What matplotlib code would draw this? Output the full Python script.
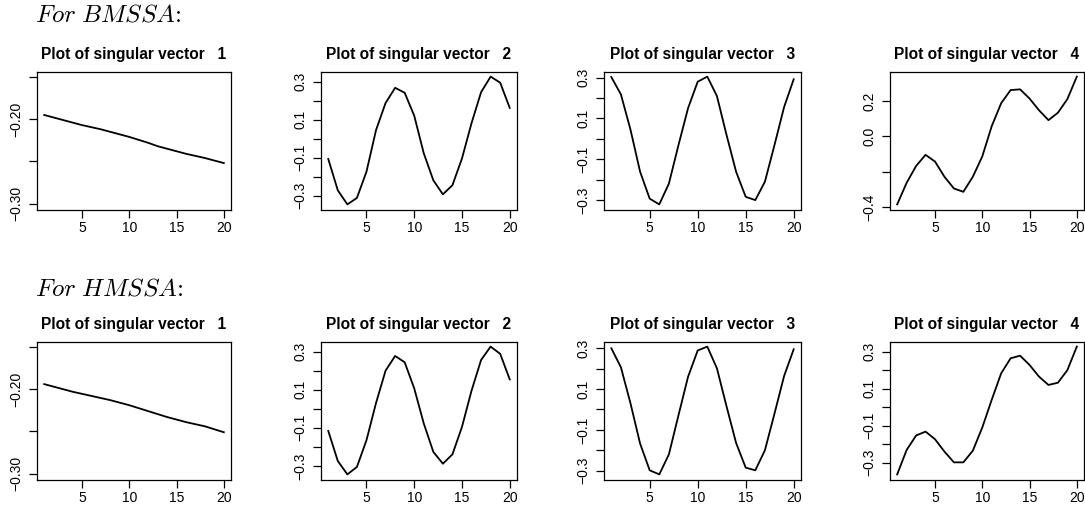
import numpy as np
import matplotlib
matplotlib.use("Agg")
import matplotlib.pyplot as plt

plt.rcParams['font.family'] = ['Liberation Sans', 'DejaVu Sans']
plt.rcParams['mathtext.fontset'] = 'cm'
plt.rcParams['axes.unicode_minus'] = True

# index of the singular vector entries
x = np.arange(1, 21)

# BMSSA singular vectors
bm_v1 = [-0.195, -0.198, -0.201, -0.204, -0.207, -0.2095, -0.212, -0.215, -0.218, -0.221,
         -0.2245, -0.228, -0.232, -0.235, -0.238, -0.241, -0.2435, -0.246, -0.249, -0.252]
bm_v2 = [-0.107, -0.272, -0.346, -0.312, -0.174, 0.045, 0.188, 0.268, 0.242, 0.121,
         -0.077, -0.219, -0.293, -0.245, -0.104, 0.082, 0.245, 0.327, 0.295, 0.162]
bm_v3 = [0.303, 0.218, 0.045, -0.161, -0.293, -0.321, -0.219, -0.030, 0.151, 0.280,
         0.305, 0.210, 0.020, -0.161, -0.284, -0.300, -0.210, -0.030, 0.156, 0.292]
bm_v4 = [-0.385, -0.263, -0.168, -0.105, -0.143, -0.229, -0.295, -0.314, -0.229, -0.114,
         0.057, 0.187, 0.261, 0.265, 0.213, 0.147, 0.091, 0.133, 0.210, 0.337]

# HMSSA singular vectors
hm_v1 = [-0.194, -0.197, -0.200, -0.203, -0.2055, -0.208, -0.2105, -0.213, -0.216, -0.219,
         -0.2225, -0.226, -0.2295, -0.233, -0.236, -0.239, -0.2415, -0.244, -0.2475, -0.251]
hm_v2 = [-0.116, -0.274, -0.344, -0.305, -0.165, 0.030, 0.200, 0.277, 0.244, 0.107,
         -0.077, -0.226, -0.288, -0.239, -0.095, 0.095, 0.256, 0.326, 0.288, 0.154]
hm_v3 = [0.300, 0.207, 0.030, -0.167, -0.298, -0.318, -0.220, -0.028, 0.161, 0.289,
         0.308, 0.202, 0.016, -0.164, -0.285, -0.298, -0.200, -0.020, 0.164, 0.295]
hm_v4 = [-0.363, -0.231, -0.153, -0.132, -0.173, -0.240, -0.298, -0.298, -0.235, -0.110,
         0.040, 0.183, 0.264, 0.278, 0.228, 0.165, 0.120, 0.132, 0.200, 0.327]

row_names = ['BMSSA', 'HMSSA']
rows = [[bm_v1, bm_v2, bm_v3, bm_v4], [hm_v1, hm_v2, hm_v3, hm_v4]]

# y ticks and which of them carry a label (R drops some to avoid overlap)
bm_yticks = [[-0.30, -0.25, -0.20, -0.15], np.arange(-0.3, 0.31, 0.1), np.arange(-0.3, 0.31, 0.1), [-0.4, -0.2, 0.0, 0.2]]
bm_ylabs = [['−0.30', '', '−0.20', ''], ['−0.3', '', '−0.1', '', '0.1', '', '0.3'],
            ['−0.3', '', '−0.1', '', '0.1', '', '0.3'], ['−0.4', '', '0.0', '0.2']]
hm_yticks = [[-0.30, -0.25, -0.20, -0.15], np.arange(-0.3, 0.31, 0.1), np.arange(-0.3, 0.31, 0.1), np.arange(-0.3, 0.31, 0.1)]
hm_ylabs = [['−0.30', '', '−0.20', ''], ['−0.3', '', '−0.1', '', '0.1', '', '0.3'],
            ['−0.3', '', '−0.1', '', '0.1', '', '0.3'], ['−0.3', '', '−0.1', '', '0.1', '', '0.3']]
yticks = [bm_yticks, hm_yticks]
ylabs = [bm_ylabs, hm_ylabs]

W, H = 1085, 513
fig = plt.figure(figsize=(W / 100, H / 100), dpi=100)

lefts = [37, 321, 604, 890]
rights = [231, 517, 801, 1084]
tops = [71.5, 341.5]
bottoms = [209.5, 479.5]
title_y = [15, 289]

for r in range(2):
    fig.text(35 / W, 1 - title_y[r] / H, r'$\mathit{For\ ' + row_names[r] + r'}$:',
             family='cmr10', fontsize=18, va='center', ha='left')
    for c in range(4):
        ax = fig.add_axes([lefts[c] / W, 1 - bottoms[r] / H,
                           (rights[c] - lefts[c]) / W, (bottoms[r] - tops[r]) / H])
        ax.plot(x, rows[r][c], color='black', lw=1.3)
        ax.margins(x=0.04, y=0.04)
        if c == 0:
            ax.set_ylim(-0.307, -0.1435)
        ax.set_xticks([5, 10, 15, 20])
        ax.set_yticks(yticks[r][c])
        ax.set_yticklabels(ylabs[r][c], rotation=90, va='center')
        ax.tick_params(direction='out', length=6, width=0.9, labelsize=10, pad=2.5)
        ax.tick_params(axis='y', pad=4)
        for s in ax.spines.values():
            s.set_linewidth(0.9)
        ax.set_title('Plot of singular vector   %d' % (c + 1), fontsize=11.2,
                     fontweight='bold', pad=9)

fig.savefig('out.png', dpi=100)
